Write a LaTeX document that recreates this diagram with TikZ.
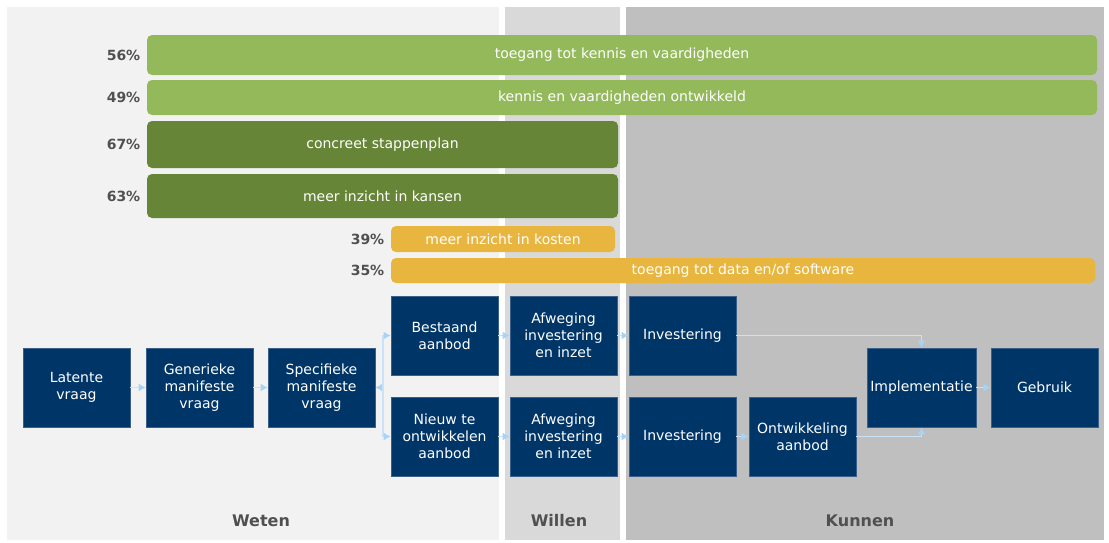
\documentclass[tikz,border=0pt]{standalone}
\usepackage{fontspec}
\setmainfont{DejaVu Sans}
\usetikzlibrary{arrows.meta}
\definecolor{navy}{HTML}{003567}
\definecolor{navyedge}{HTML}{3A5F8A}
\definecolor{lightgreen}{HTML}{93B95B}
\definecolor{darkgreen}{HTML}{668537}
\definecolor{gold}{HTML}{E8B63E}
\definecolor{flowblue}{HTML}{C8E2F9}
\definecolor{tipblue}{HTML}{A6D3F8}
\definecolor{labelgrey}{HTML}{505050}
\definecolor{wetenbg}{HTML}{F2F2F2}
\definecolor{willenbg}{HTML}{D9D9D9}
\definecolor{kunnenbg}{HTML}{BFBFBF}
\begin{document}
\begin{tikzpicture}[>={Latex[length=7pt,width=8pt,color=tipblue]},x=1pt,y=-1pt,
	stap/.style={fill=navy,draw=navyedge,line width=.6pt,text=white,minimum width=107pt,minimum height=79pt,align=center,font=\fontsize{14}{17}\selectfont},
	balk/.style={rounded corners=5pt,text=white,font=\fontsize{14}{16}\selectfont},
	pct/.style={anchor=east,text=labelgrey,font=\fontsize{14}{16}\selectfont\bfseries},
	fase/.style={text=labelgrey,font=\fontsize{16}{18}\selectfont\bfseries},
	flow/.style={->,draw=flowblue,line width=1.8pt}]
	\useasboundingbox (0,0) rectangle (1109,542);
	\begin{scope}
		\fill[wetenbg] (7,7) rectangle (499,540);
		\fill[willenbg] (505,7) rectangle (620,540);
		\fill[kunnenbg] (626,7) rectangle (1104,540);
		\node[fase] (weten) at (261,521) {Weten};
		\node[fase] (willen) at (559,521) {Willen};
		\node[fase] (kunnen) at (860,521) {Kunnen};
	\end{scope}
	
	
	\begin{scope}
		\node[balk,fill=lightgreen,minimum width=950pt,minimum height=40pt] (toegangkennis) at (622,55) {toegang tot kennis en vaardigheden};
		\node[balk,fill=lightgreen,minimum width=950pt,minimum height=35pt] (ontwikkeld) at (622,97.5) {kennis en vaardigheden ontwikkeld};
		\node[balk,fill=darkgreen,minimum width=471pt,minimum height=47pt] (stappenplan) at (382.5,144.5) {concreet stappenplan};
		\node[balk,fill=darkgreen,minimum width=471pt,minimum height=44pt] (kansen) at (382.5,196) {meer inzicht in kansen};
		\node[balk,fill=gold,minimum width=224pt,minimum height=26pt] (kosten) at (503,239) {meer inzicht in kosten};
		\node[balk,fill=gold,minimum width=704pt,minimum height=25pt] (software) at (743,270.5) {toegang tot data en/of software};
		\node[pct] (p56) at ([xshift=-3pt]toegangkennis.west) {56\%};
		\node[pct] (p49) at ([xshift=-3pt]ontwikkeld.west) {49\%};
		\node[pct] (p67) at ([xshift=-3pt]stappenplan.west) {67\%};
		\node[pct] (p63) at ([xshift=-3pt]kansen.west) {63\%};
		\node[pct] (p39) at ([xshift=-3pt]kosten.west) {39\%};
		\node[pct] (p35) at ([xshift=-3pt]software.west) {35\%};
	\end{scope}
	
	
	\begin{scope}
		\node[stap] (latent) at (76.5,387.5) {Latente\\vraag};
		\node[stap] (generiek) at (199.5,387.5) {Generieke\\manifeste\\vraag};
		\node[stap] (specifiek) at (321.5,387.5) {Specifieke\\manifeste\\vraag};
		\node[stap] (bestaand) at (444.5,335.5) {Bestaand\\aanbod};
		\node[stap] (nieuw) at (444.5,436.5) {Nieuw te\\ontwikkelen\\aanbod};
		\node[stap] (afwegingA) at (563.5,335.5) {Afweging\\investering\\en inzet};
		\node[stap] (afwegingB) at (563.5,436.5) {Afweging\\investering\\en inzet};
		\node[stap] (investeringA) at (682.5,335.5) {Investering};
		\node[stap] (investeringB) at (682.5,436.5) {Investering};
		\node[stap] (ontwikkeling) at (802.5,436.5) {Ontwikkeling\\aanbod};
		\node[stap] (implementatie) at (921.5,387.5) {Implementatie};
		\node[stap] (gebruik) at (1044.5,387.5) {Gebruik};
	\end{scope}
	
	
	\begin{scope}
		\draw[flow] (latent) -- (generiek);
		\draw[flow] (generiek) -- (specifiek);
		\coordinate (splitsing) at (383,387.5);
		\draw[flow,<-] (specifiek) -- (splitsing);
		\draw[flow] (splitsing) |- (bestaand);
		\draw[flow] (splitsing) |- (nieuw);
		\draw[flow] (bestaand) -- (afwegingA);
		\draw[flow] (nieuw) -- (afwegingB);
		\draw[flow] (afwegingA) -- (investeringA);
		\draw[flow] (afwegingB) -- (investeringB);
		\draw[flow] (investeringB) -- (ontwikkeling);
		\draw[flow] (investeringA) -| (implementatie);
		\draw[flow] (ontwikkeling) -| (implementatie);
		\draw[flow] (implementatie) -- (gebruik);
	\end{scope}
\end{tikzpicture}
\end{document}
